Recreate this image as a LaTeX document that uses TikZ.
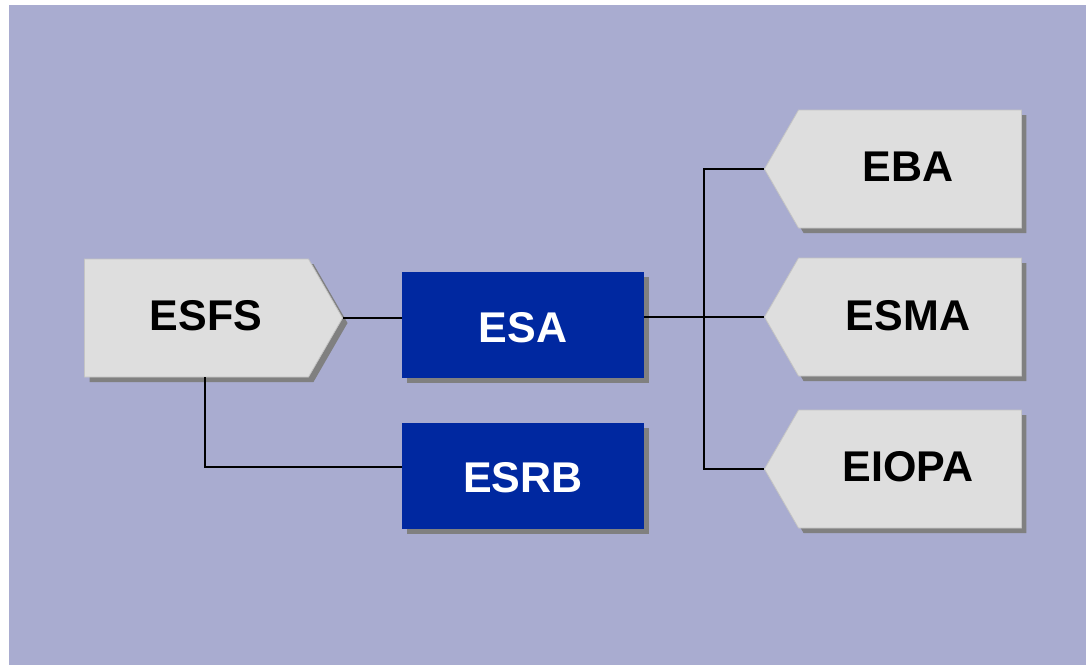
\documentclass[tikz,border=0pt]{standalone}
\usepackage{fontspec}
\setmainfont{Liberation Sans}
\usetikzlibrary{shapes.symbols,shadows}
\definecolor{backlav}{HTML}{A9ACD0}
\definecolor{boxgrey}{HTML}{DEDEDE}
\definecolor{edgegrey}{HTML}{C4C4C4}
\definecolor{shadegrey}{HTML}{808080}
\definecolor{esablue}{HTML}{0028A0}
\tikzset{
  label font/.style={font=\fontsize{43}{50}\selectfont\bfseries},
  greyflag/.style={signal, fill=boxgrey, draw=edgegrey, line width=0.8pt,
    minimum height=118pt, signal pointer angle=120, label font,
    drop shadow={shadow xshift=5pt, shadow yshift=-5pt, fill=shadegrey, opacity=1}},
  bluebox/.style={rectangle, fill=esablue, text=white, minimum width=242pt,
    minimum height=106pt, label font,
    drop shadow={shadow xshift=5pt, shadow yshift=-5pt, fill=shadegrey, opacity=1}},
  link/.style={line width=1.5pt}
}
\begin{document}
\begin{tikzpicture}[x=1pt,y=-1pt]
      \useasboundingbox (0,0) rectangle (1086,665);
      \fill[backlav] (9,5) rectangle (1086,665);

      % left side
      \node[greyflag, signal to=east, minimum width=258pt] (ESFS) at (196.5,318) {};
      \node[label font] (ESFSlabel) at (206,316) {ESFS};
      \node[bluebox] (ESA) at (523,325) {};
      \node[label font, text=white] (ESAlabel) at (523,328) {ESA};
      \node[bluebox] (ESRB) at (523,476) {};
      \node[label font, text=white] (ESRBlabel) at (523,478) {ESRB};

      % right side
      \node[greyflag, signal to=west, minimum width=257pt] (EBA) at (910,169) {};
      \node[label font] (EBAlabel) at (908,167) {EBA};
      \node[greyflag, signal to=west, minimum width=257pt] (ESMA) at (910,317) {};
      \node[label font] (ESMAlabel) at (908,316) {ESMA};
      \node[greyflag, signal to=west, minimum width=257pt] (EIOPA) at (910,469) {};
      \node[label font] (EIOPAlabel) at (908,467) {EIOPA};

      \coordinate (hub) at (704,317);
      \coordinate (esfsfoot) at (205,377);
      \coordinate (esrbin) at (402,467);

      \draw[link] (ESFS.east) -- (ESFS.east -| ESA.west);
      \draw[link] (esfsfoot) |- (esrbin);
      \draw[link] (ESA.east |- hub) -- (hub);
      \draw[link] (EBA.west) -| (hub);
      \draw[link] (hub) -- (ESMA.west);
      \draw[link] (hub) |- (EIOPA.west);
    \end{tikzpicture}
\end{document}
